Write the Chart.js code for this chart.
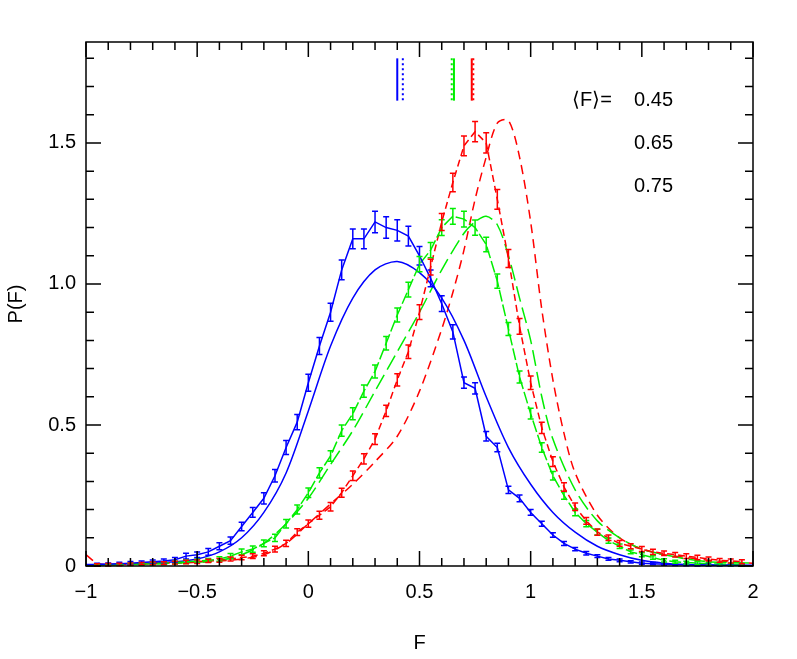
<!DOCTYPE html>
<html>
<head>
<meta charset="utf-8">
<script src="https://cdn.jsdelivr.net/npm/chart.js@4"></script>
<style>
  body { margin: 0; background: #fff; }
</style>
</head>
<body>
<canvas id="myChart" width="797" height="659"></canvas>
<script>
// sample positions of the measured histograms
var fGrid = [-0.95,-0.9,-0.85,-0.8,-0.75,-0.7,-0.65,-0.6,-0.55,
  -0.5,-0.45,-0.4,-0.35,-0.3,-0.25,-0.2,-0.15,-0.1,-0.05,
  0,0.05,0.1,0.15,0.2,0.25,0.3,0.35,0.4,0.45,
  0.5,0.55,0.6,0.65,0.7,0.75,0.8,0.85,0.9,0.95,
  1,1.05,1.1,1.15,1.2,1.25,1.3,1.35,1.4,1.45,
  1.5,1.55,1.6,1.65,1.7,1.75,1.8,1.85,1.9,1.95]

var blueData = [0.005,0.006,0.008,0.01,0.012,0.015,0.018,0.022,0.035,
  0.04,0.05,0.07,0.09,0.14,0.19,0.24,0.32,0.42,0.51,
  0.65,0.78,0.9,1.05,1.16,1.16,1.22,1.2,1.19,1.17,
  1.1,1.02,0.93,0.83,0.65,0.63,0.46,0.42,0.27,0.24,
  0.19,0.15,0.11,0.08,0.06,0.045,0.035,0.025,0.02,0.015,
  0.01,0.008,0.006,0.005,0.004,0.003,0.003,0.002,0.002,0.002]
var blueErr = [0.005,0.005,0.005,0.006,0.006,0.006,0.007,0.008,0.01,
  0.01,0.012,0.012,0.013,0.015,0.017,0.02,0.022,0.025,0.027,
  0.03,0.03,0.032,0.035,0.035,0.035,0.038,0.038,0.038,0.035,
  0.033,0.03,0.028,0.025,0.02,0.02,0.017,0.015,0.013,0.012,
  0.01,0.009,0.008,0.007,0.006,0.006,0.005,0.005,0.005,0.004,
  0.004,0.004,0.003,0.003,0.003,0.003,0.003,0.003,0.003,0.003]

var greenData = [0.003,0.004,0.005,0.006,0.007,0.008,0.01,0.012,0.015,
  0.018,0.02,0.025,0.035,0.05,0.06,0.08,0.1,0.15,0.2,
  0.26,0.33,0.39,0.48,0.54,0.62,0.69,0.79,0.89,0.98,
  1.07,1.12,1.2,1.24,1.23,1.2,1.14,1.01,0.84,0.67,
  0.54,0.42,0.32,0.25,0.19,0.15,0.12,0.09,0.07,0.05,
  0.04,0.03,0.02,0.015,0.012,0.01,0.008,0.007,0.006,0.005]
var greenErr = [0.003,0.003,0.003,0.004,0.004,0.004,0.005,0.005,0.006,
  0.006,0.007,0.008,0.009,0.01,0.011,0.012,0.013,0.015,0.016,
  0.017,0.018,0.019,0.02,0.021,0.022,0.023,0.024,0.025,0.026,
  0.027,0.027,0.028,0.028,0.028,0.027,0.026,0.025,0.023,0.021,
  0.019,0.017,0.015,0.013,0.012,0.011,0.01,0.009,0.008,0.007,
  0.007,0.006,0.006,0.005,0.005,0.005,0.005,0.004,0.004,0.004]

var redData = [0.004,0.005,0.006,0.007,0.008,0.009,0.01,0.012,0.014,
  0.015,0.018,0.02,0.025,0.03,0.035,0.045,0.06,0.08,0.12,
  0.15,0.18,0.21,0.26,0.32,0.38,0.45,0.55,0.66,0.76,
  0.9,1.06,1.22,1.36,1.49,1.54,1.5,1.3,1.09,0.85,
  0.65,0.49,0.37,0.28,0.21,0.16,0.12,0.1,0.08,0.07,
  0.06,0.05,0.045,0.04,0.035,0.03,0.025,0.02,0.018,0.015]
var redErr = [0.004,0.004,0.004,0.004,0.004,0.005,0.005,0.005,0.006,
  0.006,0.006,0.007,0.007,0.008,0.008,0.009,0.01,0.011,0.012,
  0.013,0.014,0.015,0.016,0.017,0.018,0.019,0.02,0.022,0.024,
  0.026,0.028,0.03,0.033,0.035,0.036,0.036,0.035,0.032,0.028,
  0.024,0.02,0.017,0.015,0.013,0.012,0.011,0.01,0.01,0.009,
  0.009,0.009,0.008,0.008,0.008,0.008,0.007,0.007,0.007,0.007]

// model curves
var blueModelF = [-1,-0.8,-0.6,-0.5,-0.4,-0.3,-0.2,-0.1,0,0.1,0.2,0.3,0.4,0.5,0.6,0.7,0.8,0.9,1,1.1,1.2,1.3,1.4,1.5,1.6,1.7,2]
var blueModel = [0.005,0.008,0.015,0.025,0.05,0.1,0.19,0.33,0.55,0.78,0.95,1.05,1.08,1.04,0.95,0.8,0.6,0.42,0.29,0.19,0.12,0.07,0.04,0.02,0.01,0.005,0.003]

var greenModelF = [-1,-0.8,-0.6,-0.4,-0.3,-0.2,-0.1,0,0.1,0.2,0.3,0.4,0.5,0.6,0.7,0.75,0.8,0.85,0.9,0.95,1,1.05,1.1,1.2,1.3,1.4,1.5,1.6,1.7,1.8,2]
var greenModel = [0.003,0.005,0.01,0.02,0.04,0.08,0.15,0.24,0.36,0.48,0.62,0.76,0.9,1.05,1.18,1.22,1.24,1.21,1.1,0.95,0.8,0.6,0.45,0.27,0.16,0.1,0.06,0.04,0.025,0.015,0.01]

var redModelF = [-1,-0.95,-0.9,-0.8,-0.7,-0.6,-0.5,-0.4,-0.3,-0.2,-0.1,0,0.1,0.2,0.3,0.4,0.5,0.6,0.65,0.7,0.75,0.8,0.85,0.9,0.95,1,1.05,1.1,1.15,1.2,1.3,1.4,1.5,1.6,1.7,1.8,1.9,2]
var redModel = [0.04,0.01,0.005,0.006,0.008,0.01,0.013,0.018,0.025,0.04,0.08,0.15,0.22,0.29,0.37,0.46,0.62,0.84,0.97,1.12,1.3,1.45,1.57,1.58,1.45,1.22,0.91,0.66,0.47,0.33,0.18,0.1,0.06,0.04,0.03,0.02,0.015,0.01]

// mean markers at the top
var meanMarkers = [
  { f: 0.40, color: '#0000ff', dash: [] },
  { f: 0.425, color: '#0000ff', dash: [2, 3] },
  { f: 0.645, color: '#00ee00', dash: [2, 3] },
  { f: 0.655, color: '#00ee00', dash: [] },
  { f: 0.735, color: '#ff0000', dash: [] },
  { f: 0.742, color: '#ff0000', dash: [2, 3] }
]
var meanLabels = ['0.45', '0.65', '0.75']

var xTicks = [-1, -0.5, 0, 0.5, 1, 1.5, 2]
var yTicks = [0, 0.5, 1, 1.5]

function pts(xs, ys) {
  return xs.map(function (x, i) { return { x: x, y: ys[i] } })
}

var BLUE = '#0000ff', GREEN = '#00ee00', RED = '#ff0000'

var errData = [
  { vals: blueData, err: blueErr, color: BLUE },
  { vals: greenData, err: greenErr, color: GREEN },
  { vals: redData, err: redErr, color: RED }
]

var frame = {
  id: 'frame',
  afterDatasetsDraw: function (chart) {
    var ctx = chart.ctx, xs = chart.scales.x, ys = chart.scales.y, a = chart.chartArea
    ctx.save()
    // error bars
    errData.forEach(function (s) {
      ctx.strokeStyle = s.color
      ctx.lineWidth = 1.5
      fGrid.forEach(function (f, i) {
        var px = xs.getPixelForValue(f)
        var y1 = ys.getPixelForValue(s.vals[i] + s.err[i])
        var y2 = ys.getPixelForValue(Math.max(0, s.vals[i] - s.err[i]))
        ctx.beginPath()
        ctx.moveTo(px, y1); ctx.lineTo(px, y2)
        ctx.moveTo(px - 3, y1); ctx.lineTo(px + 3, y1)
        ctx.moveTo(px - 3, y2); ctx.lineTo(px + 3, y2)
        ctx.stroke()
      })
    })
    // mean markers
    meanMarkers.forEach(function (m) {
      var px = xs.getPixelForValue(m.f)
      ctx.strokeStyle = m.color
      ctx.lineWidth = 2
      ctx.setLineDash(m.dash)
      ctx.beginPath()
      ctx.moveTo(px, ys.getPixelForValue(1.8))
      ctx.lineTo(px, ys.getPixelForValue(1.65))
      ctx.stroke()
    })
    ctx.setLineDash([])
    // frame and inward ticks
    ctx.strokeStyle = '#000'
    ctx.lineWidth = 1.5
    ctx.strokeRect(a.left, a.top, a.right - a.left, a.bottom - a.top)
    ctx.beginPath()
    for (var k = -10; k <= 20; k++) {
      var v = k / 10, px = xs.getPixelForValue(v)
      var len = (k % 5 === 0) ? 15 : 8
      ctx.moveTo(px, a.bottom); ctx.lineTo(px, a.bottom - len)
      ctx.moveTo(px, a.top); ctx.lineTo(px, a.top + len)
    }
    for (var j = 0; j <= 18; j++) {
      var w = j / 10, py = ys.getPixelForValue(w)
      var l2 = (j % 5 === 0) ? 15 : 8
      ctx.moveTo(a.left, py); ctx.lineTo(a.left + l2, py)
      ctx.moveTo(a.right, py); ctx.lineTo(a.right - l2, py)
    }
    ctx.stroke()
    // legend text
    ctx.fillStyle = '#000'
    ctx.font = '20px "Liberation Sans", sans-serif'
    ctx.textAlign = 'right'
    ctx.textBaseline = 'middle'
    ctx.fillText('\u27E8F\u27E9=', 612, 100)
    meanLabels.forEach(function (t, i) { ctx.fillText(t, 673, 100 + i * 43) })
    ctx.restore()
  }
}

var ctx = document.getElementById('myChart').getContext('2d')
var chart = new Chart(ctx, {
  type: 'scatter',
  data: {
    datasets: [
      { data: pts(fGrid, blueData), borderColor: BLUE, showLine: true, borderWidth: 1.5, pointRadius: 0 },
      { data: pts(fGrid, greenData), borderColor: GREEN, showLine: true, borderWidth: 1.5, borderDash: [12, 3], pointRadius: 0 },
      { data: pts(fGrid, redData), borderColor: RED, showLine: true, borderWidth: 1.5, borderDash: [7, 4], pointRadius: 0 },
      { data: pts(blueModelF, blueModel), borderColor: BLUE, showLine: true, borderWidth: 1.5, pointRadius: 0, tension: 0.3 },
      { data: pts(greenModelF, greenModel), borderColor: GREEN, showLine: true, borderWidth: 1.5, borderDash: [16, 6], pointRadius: 0, tension: 0.3 },
      { data: pts(redModelF, redModel), borderColor: RED, showLine: true, borderWidth: 1.5, borderDash: [9, 6], pointRadius: 0, tension: 0.3 }
    ]
  },
  options: {
    responsive: false,
    animation: false,
    devicePixelRatio: 1,
    layout: { padding: { top: 42, right: 44, left: 0, bottom: 0 } },
    plugins: { legend: { display: false }, tooltip: { enabled: false } },
    scales: {
      x: {
        type: 'linear', min: -1, max: 2,
        grid: { display: false, drawTicks: false },
        border: { display: false },
        afterBuildTicks: function (s) { s.ticks = xTicks.map(function (v) { return { value: v } }) },
        afterFit: function (s) { s.height = 93 },
        ticks: {
          autoSkip: false, maxRotation: 0,
          color: '#000', padding: 14, font: { size: 20, family: 'Liberation Sans' },
          callback: function (v) { return String(v).replace('-', '\u2212') }
        },
        title: { display: true, text: 'F', color: '#000', padding: { top: 4 }, font: { size: 20, family: 'Liberation Sans' } }
      },
      y: {
        min: 0, max: 1.858,
        grid: { display: false, drawTicks: false },
        border: { display: false },
        afterBuildTicks: function (s) { s.ticks = yTicks.map(function (v) { return { value: v } }) },
        afterFit: function (s) { s.width = 86 },
        ticks: { autoSkip: false, color: '#000', padding: 10, font: { size: 20, family: 'Liberation Sans' } },
        title: { display: true, text: 'P(F)', color: '#000', font: { size: 20, family: 'Liberation Sans' } }
      }
    }
  },
  plugins: [frame]
})
</script>
</body>
</html>
